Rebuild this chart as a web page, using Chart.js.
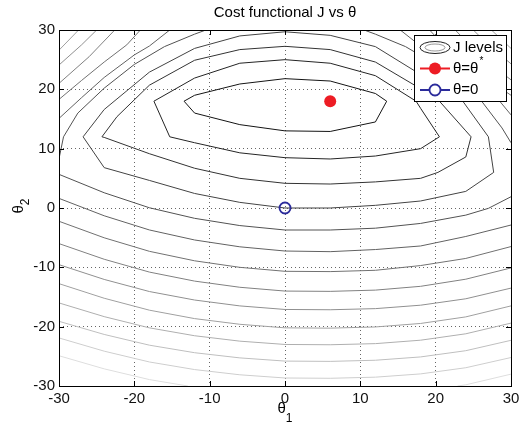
<!DOCTYPE html>
<html>
<head>
<meta charset="utf-8">
<title>Cost functional J vs θ</title>
<script src="https://cdn.jsdelivr.net/npm/chart.js@4.4.1/dist/chart.umd.min.js"></script>
<style>
  html, body { margin: 0; padding: 0; background: #fff; }
  #grafico-custo { display: block; }
</style>
</head>
<body>
<canvas id="grafico-custo" width="520" height="433"></canvas>
<script>
// Valores dos eixos
const theta1Ticks = [-30, -20, -10, 0, 10, 20, 30];
const theta2Ticks = [-30, -20, -10, 0, 10, 20, 30];

// Pontos marcados
const thetaStar = [6, 18];
const thetaZero = [0, 0];

// Curvas de nível de J, pontos [theta1, theta2]
const level1 = [[-13.4, 18], [-12, 19.0], [-6, 20.9], [0, 21.8], [6, 21.4], [12, 19.3], [13.5, 18], [12, 14.5], [6, 12.9], [0, 13.0], [-6, 14.05], [-12, 16.0], [-13.4, 18]];
const level2 = [[-17.4, 18], [-12, 21.9], [-6, 24.4], [0, 25.0], [6, 24.4], [12, 22.3], [17.4, 18], [18, 16.8], [20.5, 12], [18, 10.0], [12, 8.76], [6, 8.26], [0, 8.48], [-6, 9.3], [-12, 11.0], [-15.3, 12], [-17.4, 18]];
const level3 = [[-24.3, 12], [-22.3, 15.4], [-18, 20.7], [-12, 24.9], [-6, 26.7], [0, 27.25], [6, 26.7], [12, 24.6], [18, 20.1], [20.5, 18], [24, 13], [24.7, 12], [24, 8.6], [20.3, 6], [18, 5.0], [12, 4.4], [6, 4.04], [0, 4.16], [-6, 5.0], [-12, 6.7], [-18, 9.15], [-24, 11.9], [-24.3, 12]];
const level4 = [[-26.8, 12], [-24, 16.6], [-18, 22.9], [-12, 26.9], [-6, 29.0], [0, 29.7], [6, 29.1], [12, 27.2], [18, 22.5], [23.6, 18], [27, 12], [27.7, 6], [24, 2.8], [18, 1.18], [12, 0.45], [6, 0], [0, 0], [-6, 0.95], [-12, 2.45], [-18, 4.65], [-24, 6.8], [-26.8, 12]];
const level5TopLeft = [[-30, 8.3], [-29.4, 12], [-27.5, 16], [-24, 20.2], [-20, 24.2], [-16, 27.2], [-12, 29.3], [-10.5, 30]];
const level5TopRight = [[10.5, 30], [12, 29.3], [16, 27.2], [20, 24.2], [24, 20.2], [26.1, 18], [28.8, 13.5], [30, 11]];
const level5Bottom = [[-30, 5.67], [-24, 2.57], [-18, 0.04], [-12, -1.74], [-6, -2.96], [0, -3.71], [6, -3.71], [12, -3.4], [18, -2.6], [24, -1.2], [27, -0.06], [30, 1.9]];
const level6TopLeft = [[-30, 15.1], [-27, 18.6], [-24, 22], [-20, 25.8], [-18, 27.3], [-15.3, 30]];
const level6TopRight = [[15.3, 30], [18, 27.3], [20, 25.8], [24, 22], [28.5, 18], [30, 15.7]];
const level6Bottom = [[-30, 1.62], [-24, -1.31], [-18, -3.7], [-12, -5.39], [-6, -6.54], [0, -7.25], [6, -7.36], [12, -7.0], [18, -6.4], [24, -4.8], [30, -2.87]];
const level7TopLeft = [[-30, 18.3], [-27, 21.5], [-24, 24.6], [-21, 27.5], [-19.2, 30]];
const level7TopRight = [[19.2, 30], [21, 27.5], [24, 24.6], [27, 21.6], [30, 19]];
const level7Bottom = [[-30, -2.24], [-24, -5.02], [-18, -7.3], [-12, -8.9], [-6, -10.0], [0, -10.67], [6, -10.72], [12, -10.5], [18, -9.7], [24, -8.5], [30, -6.5]];
const level8TopLeft = [[-30, 21.0], [-26, 25.5], [-22.6, 30]];
const level8TopRight = [[22.6, 30], [26, 25.5], [30, 21.6]];
const level8Bottom = [[-30, -6.0], [-24, -8.64], [-18, -10.8], [-12, -12.32], [-6, -13.36], [0, -14.0], [6, -14.05], [12, -13.84], [18, -13.2], [24, -12.0], [30, -10.1]];
const level9TopLeft = [[-30, 24.1], [-27, 27.5], [-25, 30]];
const level9TopRight = [[25, 30], [27, 27.5], [30, 24.3]];
const level9Bottom = [[-30, -9.55], [-24, -12.04], [-18, -14.08], [-12, -15.51], [-6, -16.5], [0, -17.1], [6, -17.15], [12, -16.96], [18, -16.38], [24, -15.3], [30, -13.5]];
const level10TopLeft = [[-30, 26.6], [-27.4, 30]];
const level10TopRight = [[27.4, 30], [30, 26.9]];
const level10Bottom = [[-30, -12.75], [-24, -15.21], [-18, -17.22], [-12, -18.64], [-6, -19.6], [0, -20.2], [6, -20.25], [12, -20.05], [18, -19.46], [24, -18.35], [30, -16.5]];
const level11Bottom = [[-30, -16.0], [-24, -18.31], [-18, -20.2], [-12, -21.53], [-6, -22.44], [0, -23.0], [6, -23.05], [12, -22.86], [18, -22.28], [24, -21.2], [30, -19.4]];
const level12Bottom = [[-30, -19.1], [-24, -21.31], [-18, -23.12], [-12, -24.39], [-6, -25.26], [0, -25.8], [6, -25.85], [12, -25.66], [18, -25.1], [24, -24.05], [30, -22.3]];
const level13Bottom = [[-30, -21.9], [-24, -24.13], [-18, -25.95], [-12, -27.23], [-6, -28.11], [0, -28.65], [6, -28.7], [12, -28.51], [18, -27.96], [24, -26.92], [30, -25.2]];
const level14Left = [[-30, -24.9], [-24, -27.11], [-18, -28.92], [-12.9, -30]];
const level14Right = [[22.9, -30], [24, -29.8], [30, -28.0]];

// Cada pedaço com o índice do nível (1 = menor J, linha mais escura)
const contourPieces = [
    [1, level1], [2, level2], [3, level3], [4, level4],
    [5, level5TopLeft], [5, level5TopRight], [5, level5Bottom],
    [6, level6TopLeft], [6, level6TopRight], [6, level6Bottom],
    [7, level7TopLeft], [7, level7TopRight], [7, level7Bottom],
    [8, level8TopLeft], [8, level8TopRight], [8, level8Bottom],
    [9, level9TopLeft], [9, level9TopRight], [9, level9Bottom],
    [10, level10TopLeft], [10, level10TopRight], [10, level10Bottom],
    [11, level11Bottom], [12, level12Bottom], [13, level13Bottom],
    [14, level14Left], [14, level14Right]
];

const FONTE = '"Liberation Sans", Arial, Helvetica, sans-serif';
const VERMELHO = '#ed1c24';
const AZUL = '#2b2b9b';

// Cinza do mapa de cores: níveis baixos escuros, altos claros
function cinzaDoNivel(nivel) {
    const v = Math.round(20 + (nivel - 1) * 15.5);
    return `rgb(${v}, ${v}, ${v})`;
}

// Caixa do eixo com marcas para dentro, nos quatro lados
const moldura = {
    id: 'moldura',
    afterDraw(chart) {
        const { ctx, chartArea: a, scales: { x, y } } = chart;
        ctx.save();
        ctx.strokeStyle = '#000';
        ctx.lineWidth = 1;
        ctx.setLineDash([]);
        ctx.strokeRect(a.left + 0.5, a.top + 0.5, a.right - a.left, a.bottom - a.top);
        ctx.beginPath();
        theta1Ticks.forEach(v => {
            const px = Math.round(x.getPixelForValue(v)) + 0.5;
            ctx.moveTo(px, a.bottom); ctx.lineTo(px, a.bottom - 5);
            ctx.moveTo(px, a.top); ctx.lineTo(px, a.top + 5);
        });
        theta2Ticks.forEach(v => {
            const py = Math.round(y.getPixelForValue(v)) + 0.5;
            ctx.moveTo(a.left, py); ctx.lineTo(a.left + 5, py);
            ctx.moveTo(a.right, py); ctx.lineTo(a.right - 5, py);
        });
        ctx.stroke();

        // Rótulos dos eixos com subscrito
        ctx.fillStyle = '#000';
        ctx.textBaseline = 'alphabetic';
        ctx.textAlign = 'left';
        ctx.font = `15px ${FONTE}`;
        const wTheta = ctx.measureText('θ').width;
        ctx.font = `12px ${FONTE}`;
        const wSub = ctx.measureText('1').width;
        const cx = (a.left + a.right) / 2;
        const x0 = cx - (wTheta + wSub) / 2;
        ctx.font = `15px ${FONTE}`;
        ctx.fillText('θ', x0, a.bottom + 27);
        ctx.font = `12px ${FONTE}`;
        ctx.fillText('1', x0 + wTheta, a.bottom + 36);

        const cy = (a.top + a.bottom) / 2;
        ctx.save();
        ctx.translate(23, cy + 5.5);
        ctx.rotate(-Math.PI / 2);
        ctx.font = `15px ${FONTE}`;
        ctx.fillText('θ', 0, 0);
        ctx.font = `12px ${FONTE}`;
        ctx.fillText('2', wTheta, 5.5);
        ctx.restore();
        ctx.restore();
    }
};

// Legenda no canto superior direito, com fundo branco por cima das curvas
const legendaMatlab = {
    id: 'legendaMatlab',
    afterDraw(chart) {
        const { ctx, chartArea: a } = chart;
        const bw = 92, bh = 66;
        const bx = a.right - bw - 5, by = a.top + 5;
        ctx.save();
        ctx.fillStyle = '#fff';
        ctx.fillRect(bx, by, bw, bh);
        ctx.strokeStyle = '#000';
        ctx.lineWidth = 1;
        ctx.strokeRect(bx + 0.5, by + 0.5, bw, bh);

        const simboloX = bx + 21;
        const textoX = bx + 39;
        const linhas = [by + 12.5, by + 33.5, by + 55];

        // J levels: duas elipses
        ctx.beginPath();
        ctx.strokeStyle = '#222';
        ctx.ellipse(simboloX, linhas[0], 15, 6, 0, 0, Math.PI * 2);
        ctx.stroke();
        ctx.beginPath();
        ctx.strokeStyle = '#999';
        ctx.ellipse(simboloX, linhas[0], 10, 3.5, 0, 0, Math.PI * 2);
        ctx.stroke();

        // theta = theta*
        ctx.strokeStyle = VERMELHO;
        ctx.lineWidth = 2;
        ctx.beginPath();
        ctx.moveTo(bx + 6, linhas[1]); ctx.lineTo(bx + 36, linhas[1]);
        ctx.stroke();
        ctx.fillStyle = VERMELHO;
        ctx.beginPath();
        ctx.arc(simboloX, linhas[1], 6, 0, Math.PI * 2);
        ctx.fill();

        // theta = 0
        ctx.strokeStyle = AZUL;
        ctx.beginPath();
        ctx.moveTo(bx + 6, linhas[2]); ctx.lineTo(bx + 36, linhas[2]);
        ctx.stroke();
        ctx.fillStyle = '#fff';
        ctx.lineWidth = 1.8;
        ctx.beginPath();
        ctx.arc(simboloX, linhas[2], 5.5, 0, Math.PI * 2);
        ctx.fill();
        ctx.stroke();

        ctx.fillStyle = '#000';
        ctx.textAlign = 'left';
        ctx.textBaseline = 'middle';
        ctx.font = `15px ${FONTE}`;
        ctx.fillText('J levels', textoX, linhas[0]);
        ctx.fillText('θ=θ', textoX, linhas[1]);
        const wEstrela = ctx.measureText('θ=θ').width;
        ctx.fillText('θ=0', textoX, linhas[2]);
        ctx.font = `10px ${FONTE}`;
        ctx.fillText('*', textoX + wEstrela + 1, linhas[1] - 7);
        ctx.restore();
    }
};

function desenharGrafico() {
    const datasets = [
        {
            label: 'θ=θ*',
            data: [{ x: thetaStar[0], y: thetaStar[1] }],
            pointRadius: 6,
            pointBackgroundColor: VERMELHO,
            pointBorderColor: VERMELHO,
            pointBorderWidth: 0,
            showLine: false,
            order: 0
        },
        {
            label: 'θ=0',
            data: [{ x: thetaZero[0], y: thetaZero[1] }],
            pointRadius: 5.5,
            pointBackgroundColor: 'rgba(0,0,0,0)',
            pointBorderColor: AZUL,
            pointBorderWidth: 1.8,
            showLine: false,
            order: 0
        },
        ...contourPieces.map(([nivel, pontos]) => ({
            label: 'J levels',
            data: pontos.map(([x, y]) => ({ x, y })),
            showLine: true,
            pointRadius: 0,
            pointHitRadius: 0,
            borderColor: cinzaDoNivel(nivel),
            borderWidth: 1,
            tension: 0,
            order: 1
        }))
    ];

    // Tamanho fixo da faixa do eixo e sem folga extra para os rótulos
    const eixo = (ticks, tamanho) => ({
        type: 'linear',
        min: ticks[0],
        max: ticks[ticks.length - 1],
        ticks: {
            stepSize: ticks[1] - ticks[0],
            color: '#111',
            font: { family: FONTE, size: 15 },
            padding: 4,
            maxRotation: 0,
            autoSkip: false
        },
        grid: { color: '#666', lineWidth: 1, drawTicks: false },
        border: { display: false, dash: [1, 3] },
        afterFit: s => {
            tamanho(s);
            s.paddingLeft = 0;
            s.paddingRight = 0;
            s.paddingTop = 0;
            s.paddingBottom = 0;
        }
    });

    const ctx = document.getElementById('grafico-custo').getContext('2d');
    new Chart(ctx, {
        type: 'scatter',
        data: { datasets },
        options: {
            responsive: false,
            animation: false,
            devicePixelRatio: 1,
            layout: { padding: { left: 0, right: 9, top: 0, bottom: 0 } },
            plugins: {
                legend: { display: false },
                tooltip: { enabled: false },
                title: {
                    display: true,
                    text: 'Cost functional J vs θ',
                    color: '#000',
                    fullSize: false,
                    font: { family: FONTE, size: 15, weight: 'normal', lineHeight: 1.2 },
                    padding: { top: 4, bottom: 8 }
                }
            },
            scales: {
                x: eixo(theta1Ticks, s => { s.height = 47; }),
                y: eixo(theta2Ticks, s => { s.width = 59; })
            }
        },
        plugins: [moldura, legendaMatlab]
    });
}

document.addEventListener('DOMContentLoaded', desenharGrafico);
</script>
</body>
</html>
